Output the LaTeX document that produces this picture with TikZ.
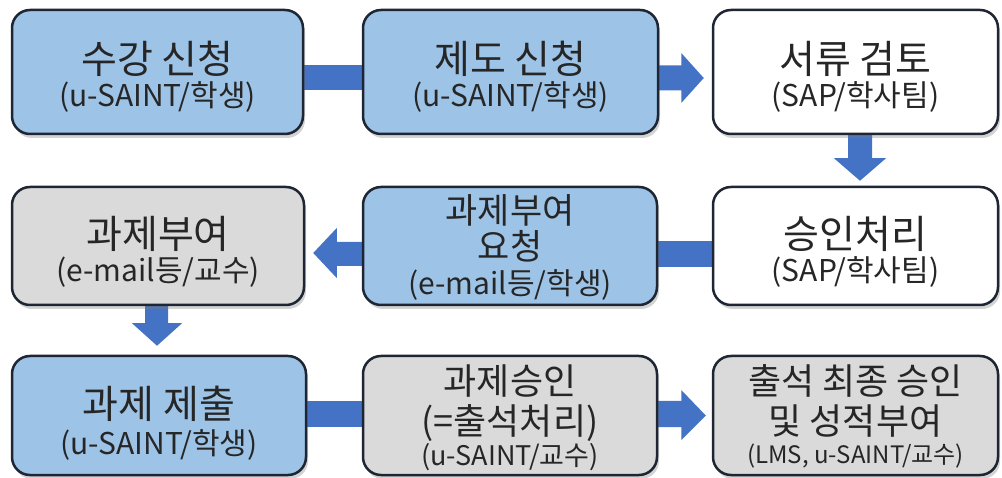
\documentclass[tikz,border=0pt]{standalone}
\usepackage{fontspec}
\setmainfont{Noto Sans CJK KR}
\usetikzlibrary{calc,shadows}
\definecolor{conn}{RGB}{68,114,196}
\definecolor{bluefill}{RGB}{157,195,230}
\definecolor{grayfill}{RGB}{218,218,218}
\definecolor{edge}{RGB}{30,38,52}
\definecolor{txt}{RGB}{38,38,38}
\pgfdeclarelayer{bg}
\pgfsetlayers{bg,main}
\tikzset{
  box/.style={draw=edge, line width=2.5pt, rounded corners=18pt, inner sep=0pt,
    drop shadow={shadow xshift=2pt, shadow yshift=-4pt, opacity=0.35}},
  bluebox/.style={box, fill=bluefill},
  graybox/.style={box, fill=grayfill},
  whitebox/.style={box, fill=white},
  txtbase/.style={text=txt, inner sep=0pt, anchor=base},
  tt/.style={txtbase, font=\fontsize{39}{44}\selectfont},
  te/.style={txtbase, font=\fontsize{35}{40}\selectfont},
  tm/.style={txtbase, font=\fontsize{36}{40}\selectfont},
  st/.style={txtbase, font=\fontsize{30}{34}\selectfont},
  sh/.style={txtbase, font=\fontsize{27}{31}\selectfont},
  ss/.style={txtbase, font=\fontsize{24}{28}\selectfont},
  connfill/.style={fill=conn}
}
\begin{document}
\begin{tikzpicture}[x=1pt,y=-1pt]
\useasboundingbox (0,0) rectangle (1002,478);
% boxes
\node[bluebox, minimum width=291pt, minimum height=124pt] (A) at (157.5,72) {};
\node[bluebox, minimum width=295pt, minimum height=124pt] (B) at (510.5,72) {};
\node[whitebox, minimum width=285pt, minimum height=124pt] (C) at (855.5,72) {};
\node[graybox, minimum width=292pt, minimum height=118pt] (F) at (158,246) {};
\node[bluebox, minimum width=294pt, minimum height=118pt] (E) at (510,246) {};
\node[whitebox, minimum width=285pt, minimum height=118pt] (D) at (855.5,246) {};
\node[bluebox, minimum width=294pt, minimum height=119pt] (G) at (159,415.5) {};
\node[graybox, minimum width=294pt, minimum height=119pt] (H) at (510,415.5) {};
\node[graybox, minimum width=285pt, minimum height=119pt] (I) at (855.5,415.5) {};
% texts
\node[tt] (At) at ($(A)+(0,1.6)$) {수강 신청};
\node[st] (As) at ($(A)+(0,35)$) {(u-SAINT/학생)};
\node[tt] (Bt) at ($(B)+(0,1.6)$) {제도 신청};
\node[st] (Bs) at ($(B)+(0,35)$) {(u-SAINT/학생)};
\node[tt] (Ct) at ($(C)+(0,1.6)$) {서류 검토};
\node[st] (Cs) at ($(C)+(0,35)$) {(SAP/학사팀)};
\node[tt] (Dt) at ($(D)+(0,2.6)$) {승인처리};
\node[st] (Ds) at ($(D)+(0,36)$) {(SAP/학사팀)};
\node[te] (Et1) at ($(E)+(0,-22)$) {과제부여};
\node[te] (Et2) at ($(E)+(0,14)$) {요청};
\node[st] (Es) at ($(E)+(0,49)$) {(e-mail등/학생)};
\node[tt] (Ft) at ($(F)+(0,2.6)$) {과제부여};
\node[st] (Fs) at ($(F)+(0,36)$) {(e-mail등/교수)};
\node[tt] (Gt) at ($(G)+(0,3.1)$) {과제 제출};
\node[st] (Gs) at ($(G)+(0,38.5)$) {(u-SAINT/학생)};
\node[tm] (Ht1) at ($(H)+(0,-21.1)$) {과제승인};
\node[tm] (Ht2) at ($(H)+(0,18.9)$) {(=출석처리)};
\node[sh] (Hs) at ($(H)+(0,50.3)$) {(u-SAINT/교수)};
\node[tm] (It1) at ($(I)+(0,-21.1)$) {출석 최종 승인};
\node[tm] (It2) at ($(I)+(0,18.9)$) {및 성적부여};
\node[ss] (Is) at ($(I)+(0,48.1)$) {(LMS, u-SAINT/교수)};
% connectors
\begin{pgfonlayer}{bg}
\fill[connfill] ($(A.east)+(-3,-6.5)$) rectangle ($(B.west)+(3,18.5)$);
\fill[connfill] ($(B.east)+(-3,-6.5)$) -- ($(B.east)+(22,-6.5)$) -- ($(B.east)+(22,-19)$)
  -- ($(C.west)+(-8,6)$) -- ($(B.east)+(22,31)$) -- ($(B.east)+(22,18.5)$)
  -- ($(B.east)+(-3,18.5)$) -- cycle;
\fill[connfill] ($(C.south)+(-7.5,-3)$) -- ($(C.south)+(-7.5,23)$) -- ($(C.south)+(-21.5,23)$)
  -- ($(D.north)+(4.5,-5)$) -- ($(C.south)+(30.5,23)$) -- ($(C.south)+(16.5,23)$)
  -- ($(C.south)+(16.5,-3)$) -- cycle;
\fill[connfill] ($(D.west)+(3,-5)$) rectangle ($(E.east)+(-3,21)$);
\fill[connfill] ($(E.west)+(3,-4)$) -- ($(E.west)+(-25,-4)$) -- ($(E.west)+(-25,-18)$)
  -- ($(F.east)+(8,7)$) -- ($(E.west)+(-25,32)$) -- ($(E.west)+(-25,20)$)
  -- ($(E.west)+(3,20)$) -- cycle;
\fill[connfill] ($(F.south)+(-13,-3)$) -- ($(F.south)+(-13,17)$) -- ($(F.south)+(-26,17)$)
  -- ($(G.north)+(-2,-9)$) -- ($(F.south)+(24,17)$) -- ($(F.south)+(10,17)$)
  -- ($(F.south)+(10,-3)$) -- cycle;
\fill[connfill] ($(G.east)+(-3,-14.5)$) rectangle ($(H.west)+(3,11.5)$);
\fill[connfill] ($(H.east)+(-3,-14.5)$) -- ($(H.east)+(23,-14.5)$) -- ($(H.east)+(23,-25.5)$)
  -- ($(I.west)+(-6,0)$) -- ($(H.east)+(23,24.5)$) -- ($(H.east)+(23,11.5)$)
  -- ($(H.east)+(-3,11.5)$) -- cycle;
\end{pgfonlayer}
\end{tikzpicture}
\end{document}
